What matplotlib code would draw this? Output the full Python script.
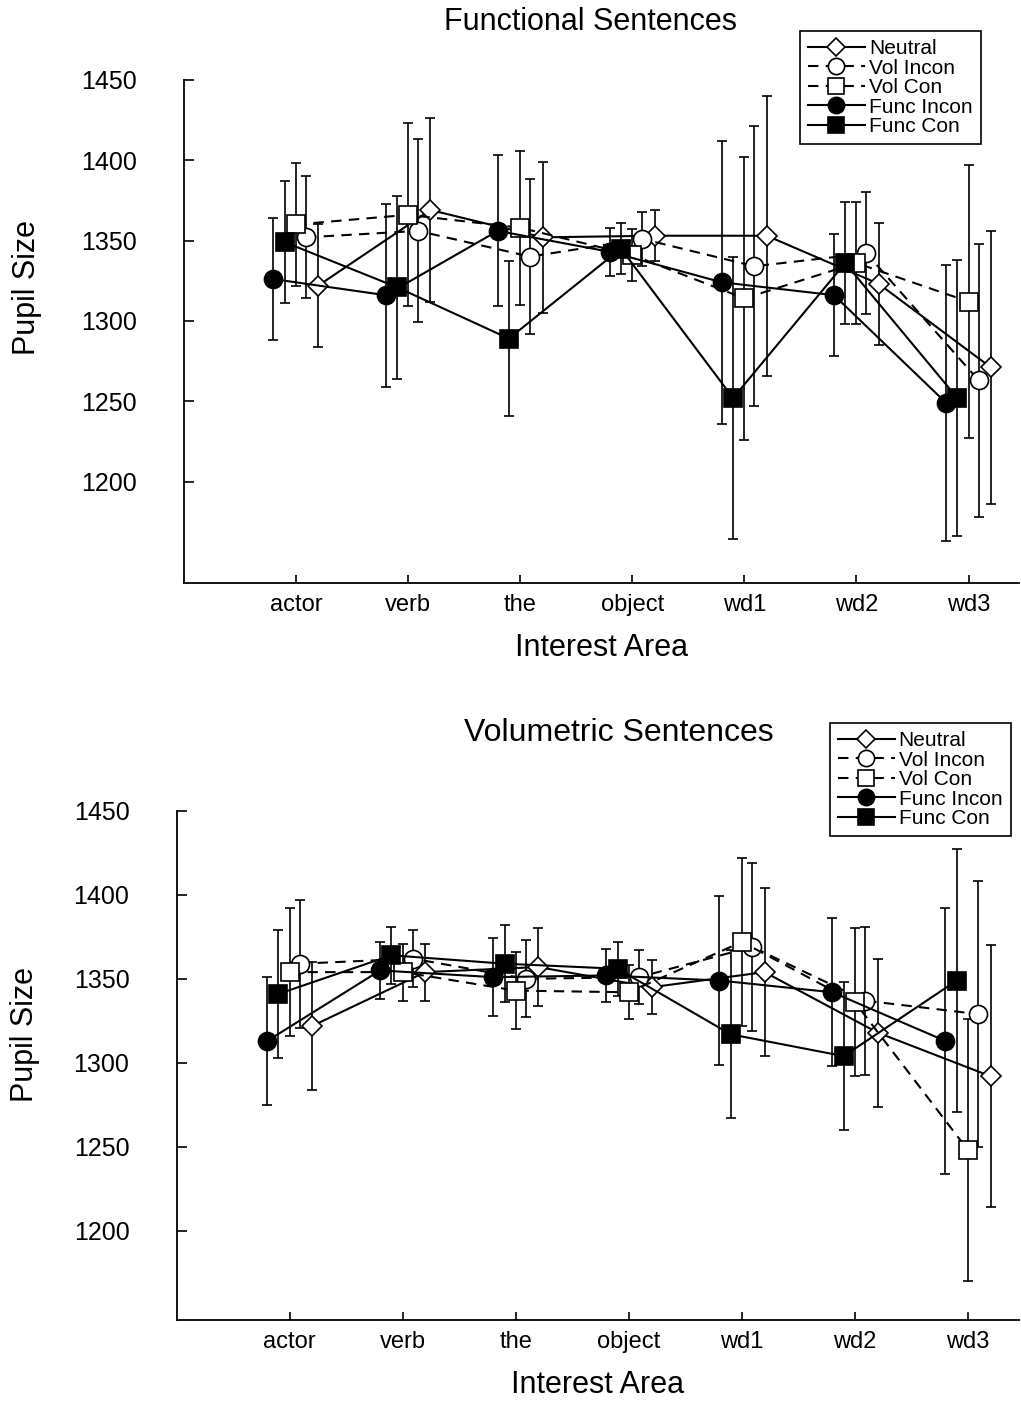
import numpy as np
import matplotlib.pyplot as plt

plt.rcParams['font.family'] = ['Liberation Sans', 'DejaVu Sans']

areas = ['actor', 'verb', 'the', 'object', 'wd1', 'wd2', 'wd3']
series = ['Neutral', 'Vol Incon', 'Vol Con', 'Func Incon', 'Func Con']

# Functional sentences: mean pupil size and error per interest area
func_neutral = [1322, 1369, 1352, 1353, 1353, 1323, 1271]
func_vol_incon = [1352, 1356, 1340, 1351, 1334, 1342, 1263]
func_vol_con = [1360, 1366, 1358, 1341, 1314, 1336, 1312]
func_func_incon = [1326, 1316, 1356, 1343, 1324, 1316, 1249]
func_func_con = [1349, 1321, 1289, 1345, 1252, 1336, 1252]

func_err_neutral = [38, 57, 47, 16, 87, 38, 85]
func_err_vol_incon = [38, 57, 48, 17, 87, 38, 85]
func_err_vol_con = [38, 57, 48, 16, 88, 38, 85]
func_err_func_incon = [38, 57, 47, 15, 88, 38, 86]
func_err_func_con = [38, 57, 48, 16, 88, 38, 86]

# Volumetric sentences
vol_neutral = [1322, 1354, 1357, 1345, 1354, 1318, 1292]
vol_vol_incon = [1359, 1362, 1350, 1351, 1369, 1337, 1329]
vol_vol_con = [1354, 1354, 1343, 1342, 1372, 1336, 1248]
vol_func_incon = [1313, 1355, 1351, 1352, 1349, 1342, 1313]
vol_func_con = [1341, 1364, 1359, 1356, 1317, 1304, 1349]

vol_err_neutral = [38, 17, 23, 16, 50, 44, 78]
vol_err_vol_incon = [38, 17, 23, 16, 50, 44, 79]
vol_err_vol_con = [38, 17, 23, 16, 50, 44, 78]
vol_err_func_incon = [38, 17, 23, 16, 50, 44, 79]
vol_err_func_con = [38, 17, 23, 16, 50, 44, 78]

# marker, face colour, line style, size, x offset
styles = {
    'Neutral':    ('D', 'white', '-',  10, 0.2),
    'Vol Incon':  ('o', 'white', '--', 13, 0.09),
    'Vol Con':    ('s', 'white', '--', 13, 0.0),
    'Func Incon': ('o', 'black', '-',  13, -0.2),
    'Func Con':   ('s', 'black', '-',  13, -0.1),
}


def draw_panel(ax, means, errs, ylo, ylab_pos):
    x = np.arange(1, len(areas) + 1)
    handles = []
    for name, m, e in zip(series, means, errs):
        mk, fc, ls, ms, dx = styles[name]
        ax.errorbar(x + dx, m, yerr=e, fmt='none', ecolor='black',
                    elinewidth=1.2, capsize=3.5, capthick=1.2, zorder=2)
        h, = ax.plot(x + dx, m, linestyle=ls, color='black', linewidth=1.5,
                     marker=mk, markersize=ms, markerfacecolor=fc,
                     markeredgecolor='black', markeredgewidth=1.2,
                     dashes=(5, 3.5) if ls == '--' else (None, None), zorder=3,
                     label=name)
        handles.append(h)
    ax.set_xlim(0, 7.45)
    ax.set_ylim(ylo, 1450)
    ax.set_xticks(x)
    ax.set_xticklabels(areas, fontsize=17)
    ax.set_yticks([1200, 1250, 1300, 1350, 1400, 1450])
    ax.tick_params(axis='y', direction='in', length=7, width=1.2,
                   labelsize=18, pad=34)
    ax.tick_params(axis='x', direction='in', length=6, width=1.2, pad=8)
    for s in ['top', 'right']:
        ax.spines[s].set_visible(False)
    for s in ['left', 'bottom']:
        ax.spines[s].set_linewidth(1.3)
    ax.set_xlabel('Interest Area', fontsize=22, labelpad=12)
    ax.set_ylabel('Pupil Size', fontsize=22)
    ax.yaxis.set_label_coords(*ylab_pos)
    return handles


fig = plt.figure(figsize=(10.21, 14.01), dpi=100)
ax1 = fig.add_axes([0.180, 0.584, 0.818, 0.359])
ax2 = fig.add_axes([0.173, 0.0578, 0.825, 0.3635])

h1 = draw_panel(ax1,
                [func_neutral, func_vol_incon, func_vol_con, func_func_incon, func_func_con],
                [func_err_neutral, func_err_vol_incon, func_err_vol_con,
                 func_err_func_incon, func_err_func_con],
                1137, (-0.170, 0.588))
fig.text(590 / 1021, 1 - 22 / 1401, 'Functional Sentences', ha='center',
         va='center', fontsize=22)

h2 = draw_panel(ax2,
                [vol_neutral, vol_vol_incon, vol_vol_con, vol_func_incon, vol_func_con],
                [vol_err_neutral, vol_err_vol_incon, vol_err_vol_con,
                 vol_err_func_incon, vol_err_func_con],
                1147, (-0.1625, 0.56))
fig.text(619 / 1021, 1 - 733 / 1401, 'Volumetric Sentences', ha='center',
         va='center', fontsize=23)

for h, anchor in [(h1, (800 / 1021, 1 - 31 / 1401)), (h2, (830 / 1021, 1 - 723 / 1401))]:
    leg = fig.legend(handles=h, loc='upper left', bbox_to_anchor=anchor,
                     fontsize=15, frameon=True, fancybox=False, framealpha=1,
                     edgecolor='black', labelspacing=0.02, handlelength=2.7,
                     handletextpad=0.2, borderpad=0.4, borderaxespad=0,
                     markerscale=0.9, numpoints=1)
    leg.get_frame().set_linewidth(1.2)

fig.savefig('out.png', dpi=100)
